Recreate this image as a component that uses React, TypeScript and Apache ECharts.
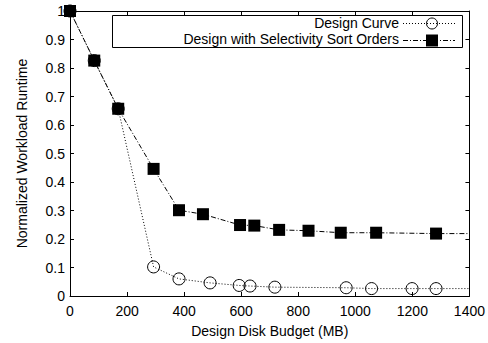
import React, { useEffect, useRef } from "react";
import * as echarts from "echarts";

const xTicks = [0, 200, 400, 600, 800, 1000, 1200, 1400];
const yTicks = [0, 0.1, 0.2, 0.3, 0.4, 0.5, 0.6, 0.7, 0.8, 0.9, 1];

const curveX = [0, 85, 169, 293, 382, 491, 593, 631, 718, 968, 1057, 1199, 1283, 1400];
const curveY = [1, 0.826, 0.657, 0.102, 0.06, 0.046, 0.037, 0.035, 0.031, 0.029, 0.026, 0.026, 0.026, 0.026];

const sortX = [0, 85, 169, 293, 382, 466, 596, 646, 733, 836, 949, 1073, 1283, 1400];
const sortY = [1, 0.826, 0.657, 0.446, 0.301, 0.287, 0.249, 0.247, 0.232, 0.229, 0.222, 0.222, 0.219, 0.219];

const seriesNames = ["Design Curve", "Design with Selectivity Sort Orders"];
const xName = "Design Disk Budget (MB)";
const yName = "Normalized Workload Runtime";

const FONT = "'Liberation Sans', Arial, Helvetica, sans-serif";
const FS = 14;

export default function App() {
  const ref = useRef<HTMLDivElement>(null);
  useEffect(() => {
    document.body.style.margin = "0";
    if (!ref.current) return;
    const chart = echarts.init(ref.current, undefined, { renderer: "svg" });
    const mk = (xs: number[], ys: number[]) =>
      xs.map((x, i) => (i === xs.length - 1 ? { value: [x, ys[i]], symbol: "none" } : { value: [x, ys[i]] }));
    const axisCommon = {
      type: "value" as const,
      axisLine: { show: true, onZero: false, lineStyle: { color: "#000", width: 1 } },
      axisTick: { show: true, inside: true, length: 4, lineStyle: { color: "#000" } },
      splitLine: { show: false },
    };
    chart.setOption({
      animation: false,
      textStyle: { fontFamily: FONT },
      grid: { left: 70, right: 17, top: 11, bottom: 45 },
      xAxis: [
        {
          ...axisCommon,
          min: 0,
          max: 1400,
          interval: 200,
          position: "bottom",
          name: xName,
          nameLocation: "middle",
          nameGap: 28,
          nameTextStyle: { color: "#000", fontSize: FS, fontFamily: FONT },
          axisLabel: { color: "#000", fontSize: FS, margin: 8, fontFamily: FONT, formatter: (v: number) => (xTicks.includes(v) ? String(v) : "") },
        },
        {
          ...axisCommon,
          min: 0,
          max: 1400,
          interval: 200,
          position: "top",
          axisLabel: { show: false },
        },
      ],
      yAxis: [
        {
          ...axisCommon,
          min: 0,
          max: 1,
          interval: 0.1,
          position: "left",
          name: yName,
          nameLocation: "middle",
          nameGap: 41,
          nameTextStyle: { color: "#000", fontSize: FS, fontFamily: FONT },
          axisLabel: {
            color: "#000",
            fontSize: FS,
            margin: 5,
            fontFamily: FONT,
            formatter: (v: number) => {
              const t = yTicks.find((k) => Math.abs(k - v) < 1e-9);
              return t === undefined ? "" : String(t);
            },
          },
        },
        {
          ...axisCommon,
          min: 0,
          max: 1,
          interval: 0.1,
          position: "right",
          axisLabel: { show: false },
        },
      ],
      series: [
        {
          name: seriesNames[0],
          type: "line",
          data: mk(curveX, curveY),
          symbol: "circle",
          symbolSize: 12,
          clip: true,
          lineStyle: { color: "#000", width: 1, type: [1, 2] },
          itemStyle: { color: "none", borderColor: "#000", borderWidth: 1 },
          z: 2,
        },
        {
          name: seriesNames[1],
          type: "line",
          data: mk(sortX, sortY),
          symbol: "rect",
          symbolSize: 12,
          clip: true,
          lineStyle: { color: "#000", width: 1, type: [5, 2, 1, 2] },
          itemStyle: { color: "#000" },
          z: 3,
        },
      ],
      graphic: [
        {
          type: "rect",
          shape: { x: 112.5, y: 15.5, width: 350, height: 32 },
          style: { fill: "#fff", stroke: "#000", lineWidth: 1 },
          z: 10,
        },
        {
          type: "text",
          x: 399,
          y: 22.5,
          style: { text: seriesNames[0], fill: "#000", font: `${FS}px ${FONT}`, align: "right", verticalAlign: "middle" },
          z: 11,
        },
        {
          type: "text",
          x: 399,
          y: 39,
          style: { text: seriesNames[1], fill: "#000", font: `${FS}px ${FONT}`, align: "right", verticalAlign: "middle" },
          z: 11,
        },
        {
          type: "line",
          shape: { x1: 403, y1: 23.5, x2: 455, y2: 23.5 },
          style: { stroke: "#000", lineWidth: 1, lineDash: [1, 2] },
          z: 11,
        },
        {
          type: "circle",
          shape: { cx: 432, cy: 23.5, r: 5.5 },
          style: { fill: "none", stroke: "#000", lineWidth: 1 },
          z: 12,
        },
        {
          type: "line",
          shape: { x1: 403, y1: 40.5, x2: 455, y2: 40.5 },
          style: { stroke: "#000", lineWidth: 1, lineDash: [5, 2, 1, 2] },
          z: 11,
        },
        {
          type: "rect",
          shape: { x: 426, y: 34.5, width: 12, height: 12 },
          style: { fill: "#000" },
          z: 12,
        },
      ],
    });
    return () => chart.dispose();
  }, []);
  return <div ref={ref} style={{ width: 488, height: 343 }} />;
}
